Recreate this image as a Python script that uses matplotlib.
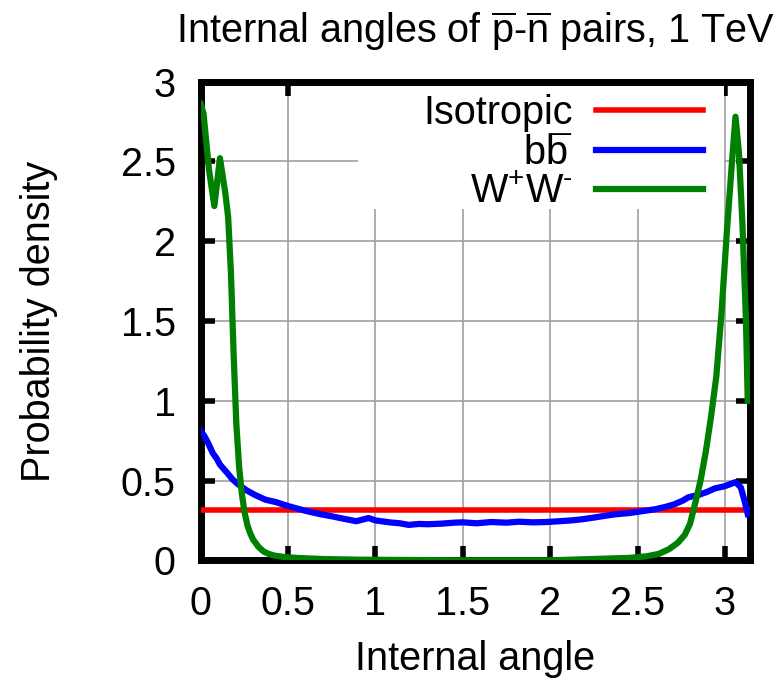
import numpy as np
import matplotlib
matplotlib.use("Agg")
import matplotlib.pyplot as plt
from matplotlib.patches import Rectangle
from matplotlib.legend import Legend

plt.rcParams['font.family'] = ['Liberation Sans', 'DejaVu Sans']
plt.rcParams['mathtext.fontset'] = 'custom'
plt.rcParams['mathtext.rm'] = 'Liberation Sans'
plt.rcParams['mathtext.it'] = 'Liberation Sans:italic'

# isotropic reference density
iso_x = [0.0, np.pi]
iso_y = [1 / np.pi, 1 / np.pi]

# b bbar
bb_x = [0.0, 0.02, 0.04, 0.07, 0.09, 0.11, 0.15, 0.18, 0.21, 0.26, 0.31, 0.37, 0.43,
        0.50, 0.55, 0.60, 0.68, 0.75, 0.82, 0.89, 0.96, 1.00, 1.08, 1.14, 1.19, 1.25,
        1.30, 1.38, 1.45, 1.50, 1.58, 1.66, 1.75, 1.82, 1.90, 1.98, 2.05, 2.12, 2.18,
        2.25, 2.32, 2.37, 2.45, 2.52, 2.60, 2.66, 2.71, 2.76, 2.79, 2.85, 2.90, 2.94,
        3.00, 3.06, 3.09, 3.11, 3.13]
bb_y = [0.81, 0.78, 0.74, 0.67, 0.64, 0.60, 0.55, 0.51, 0.48, 0.44, 0.41, 0.38, 0.365,
        0.34, 0.325, 0.31, 0.29, 0.276, 0.26, 0.245, 0.265, 0.25, 0.238, 0.232, 0.222, 0.228,
        0.226, 0.23, 0.236, 0.238, 0.232, 0.24, 0.236, 0.242, 0.238, 0.24, 0.245, 0.25, 0.257,
        0.268, 0.28, 0.288, 0.296, 0.307, 0.32, 0.335, 0.351, 0.375, 0.395, 0.41, 0.43, 0.45,
        0.465, 0.49, 0.458, 0.38, 0.29]

# W+ W-
ww_x = [0.0, 0.016, 0.047, 0.078, 0.11, 0.141, 0.157, 0.173, 0.188, 0.204, 0.22, 0.235,
        0.251, 0.267, 0.283, 0.30, 0.33, 0.36, 0.39, 0.42, 0.47, 0.55, 0.70, 0.90, 1.5,
        2.0, 2.3, 2.45, 2.55, 2.62, 2.68, 2.73, 2.77, 2.80, 2.83, 2.86, 2.89, 2.92, 2.95,
        2.98, 3.01, 3.04, 3.06, 3.08, 3.10, 3.12, 3.13]
ww_y = [2.86, 2.80, 2.45, 2.22, 2.52, 2.30, 2.15, 1.80, 1.30, 0.85, 0.58, 0.42,
        0.30, 0.22, 0.17, 0.13, 0.085, 0.055, 0.04, 0.03, 0.022, 0.015, 0.008, 0.004, 0.0,
        0.0, 0.01, 0.015, 0.025, 0.04, 0.07, 0.11, 0.16, 0.23, 0.36, 0.50, 0.68, 0.90, 1.15,
        1.55, 2.05, 2.50, 2.78, 2.55, 2.10, 1.50, 1.0]

# the bar of b-bar is a macron pulled back over the second b
labels = ['Isotropic', '$\\mathrm{bb}\\hspace{-0.555}\\mathrm{\u00af}$',
          r'$\mathrm{W^{+}W^{\text{-}}}$']
colors = ['#ff0000', '#0000ff', '#008000']

xticks = [0, 0.5, 1, 1.5, 2, 2.5, 3]
yticks = [0, 0.5, 1, 1.5, 2, 2.5, 3]
tick_labels = ['0', '0.5', '1', '1.5', '2', '2.5', '3']

fs = 28.5

fig = plt.figure(figsize=(7.81, 6.8), dpi=100)
ax = fig.add_axes([0.257, 0.176, 0.703, 0.704])

lines = []
for (xs, ys), lab, c, lw in zip([(iso_x, iso_y), (bb_x, bb_y), (ww_x, ww_y)],
                                labels, colors, [4, 4.5, 4.5]):
    ln, = ax.plot(xs, ys, color=c, lw=lw, label=lab, zorder=3)
    lines.append(ln)

ax.set_xlim(0, np.pi)
ax.set_ylim(0, 3)
ax.set_xticks(xticks)
ax.set_yticks(yticks)
ax.set_xticklabels(tick_labels)
ax.set_yticklabels(tick_labels)
ax.tick_params(direction='in', length=10, width=4, top=True, right=True,
               labelsize=fs, pad=18)
ax.grid(True, color='#a0a0a0', lw=1.2)
for s in ax.spines.values():
    s.set_linewidth(5)

# key box hides the grid behind it
ax.add_patch(Rectangle((0.898, 2.2), 2.097, 0.8, facecolor='white',
                       edgecolor='none', zorder=1.8))

ax.set_title(r'Internal angles of $\overline{\mathrm{p}}$-$\overline{\mathrm{n}}$ pairs, 1 TeV',
             fontsize=fs, pad=28)
ax.set_xlabel('Internal angle', fontsize=fs, labelpad=12)
ax.set_ylabel('Probability density', fontsize=fs, labelpad=45)

# one key row per entry so that the rows keep an even baseline spacing
key_y = [0.895, 0.812, 0.729]
for ln, lab, ky in zip(lines, labels, key_y):
    leg = Legend(ax, [ln], [lab], loc='lower right', bbox_to_anchor=(0.915, ky),
                 frameon=False, markerfirst=False, fontsize=fs, handlelength=2.7,
                 handletextpad=0.6, borderpad=0, borderaxespad=0)
    ax.add_artist(leg)

fig.savefig('out.png', dpi=100)
